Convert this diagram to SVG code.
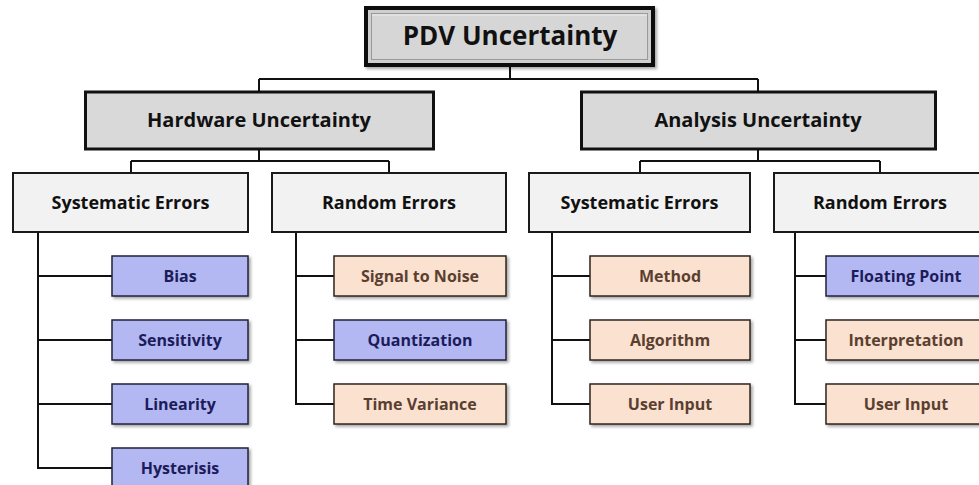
<svg xmlns="http://www.w3.org/2000/svg" width="979" height="485" viewBox="0 0 979 485">
<defs>
<filter id="sh" x="-10%" y="-20%" width="130%" height="150%">
<feDropShadow dx="2" dy="2" stdDeviation="1.5" flood-color="#000" flood-opacity="0.35"/>
</filter>
<style>
text{font-family:"Open Sans","Liberation Sans",sans-serif;font-weight:700;text-anchor:middle}
.con path{fill:none;stroke:#111;stroke-width:2}
.l1{fill:#d9d9d9;stroke:#111;stroke-width:3}
.l2{fill:#f2f2f2;stroke:#1a1a1a;stroke-width:2}
.blue rect{fill:#b3b8f3;stroke:#22223a;stroke-width:1.5;filter:url(#sh)}
.peach rect{fill:#fbe1cf;stroke:#2e241e;stroke-width:1.5;filter:url(#sh)}
.blue text{fill:#1c1c5a;font-size:16px}
.peach text{fill:#5a3f30;font-size:16px}
.t1{font-size:20px;fill:#111}
.t2{font-size:18px;fill:#111}
</style>
</defs>
<rect width="979" height="485" fill="#fff"/>
<g class="con" id="connectors">
<path d="M510 67V79M259 79H758M259 79V91M758 79V91"/>
<path d="M259 150V161M131 161H389M131 161V173M389 161V173"/>
<path d="M758 150V161M640 161H880M640 161V173M880 161V173"/>
<path d="M38 232V468H112M38 276H112M38 340H112M38 404H112"/>
<path d="M296 232V404H334M296 276H334M296 340H334"/>
<path d="M552 232V404H590M552 276H590M552 340H590"/>
<path d="M795 232V404H826M795 276H826M795 340H826"/>
</g>
<g id="pdv">
<rect x="366" y="8" width="287" height="57" fill="#cfcfcf" stroke="#111" stroke-width="4" filter="url(#sh)"/>
<rect x="371.5" y="13.5" width="276" height="46" fill="#d6d6d6" stroke="#9a9a9a" stroke-width="1"/>
<line x1="372" y1="15" x2="647" y2="15" stroke="#ececec" stroke-width="1"/>
<text x="510" y="45" font-size="26" fill="#111">PDV Uncertainty</text>
</g>
<g id="hardware">
<rect class="l1" x="85.5" y="92" width="348" height="57"/>
<text class="t1" x="259" y="127">Hardware Uncertainty</text>
</g>
<g id="analysis">
<rect class="l1" x="581.5" y="92" width="354" height="57"/>
<text class="t1" x="758" y="127">Analysis Uncertainty</text>
</g>
<g id="hw-systematic">
<rect class="l2" x="13" y="173" width="235" height="59"/>
<text class="t2" x="130.5" y="209">Systematic Errors</text>
</g>
<g id="hw-random">
<rect class="l2" x="272" y="173" width="234" height="59"/>
<text class="t2" x="389" y="209">Random Errors</text>
</g>
<g id="an-systematic">
<rect class="l2" x="529" y="173" width="221" height="59"/>
<text class="t2" x="639.5" y="209">Systematic Errors</text>
</g>
<g id="an-random">
<rect class="l2" x="774" y="173" width="214" height="59"/>
<text class="t2" x="880" y="209">Random Errors</text>
</g>
<g id="bias" class="blue"><rect x="112" y="256" width="136" height="40"/><text x="180" y="281.5">Bias</text></g>
<g id="sensitivity" class="blue"><rect x="112" y="320" width="136" height="40"/><text x="180" y="345.5">Sensitivity</text></g>
<g id="linearity" class="blue"><rect x="112" y="384" width="136" height="40"/><text x="180" y="409.5">Linearity</text></g>
<g id="hysterisis" class="blue"><rect x="112" y="448" width="136" height="40"/><text x="180" y="473.5">Hysterisis</text></g>
<g id="snr" class="peach"><rect x="334" y="256" width="172" height="40"/><text x="420" y="281.5">Signal to Noise</text></g>
<g id="quantization" class="blue"><rect x="334" y="320" width="172" height="40"/><text x="420" y="345.5">Quantization</text></g>
<g id="timevar" class="peach"><rect x="334" y="384" width="172" height="40"/><text x="420" y="409.5">Time Variance</text></g>
<g id="method" class="peach"><rect x="590" y="256" width="160" height="40"/><text x="670" y="281.5">Method</text></g>
<g id="algorithm" class="peach"><rect x="590" y="320" width="160" height="40"/><text x="670" y="345.5">Algorithm</text></g>
<g id="userinput1" class="peach"><rect x="590" y="384" width="160" height="40"/><text x="670" y="409.5">User Input</text></g>
<g id="floating" class="blue"><rect x="826" y="256" width="160" height="40"/><text x="906" y="281.5">Floating Point</text></g>
<g id="interp" class="peach"><rect x="826" y="320" width="160" height="40"/><text x="906" y="345.5">Interpretation</text></g>
<g id="userinput2" class="peach"><rect x="826" y="384" width="160" height="40"/><text x="906" y="409.5">User Input</text></g>
</svg>
